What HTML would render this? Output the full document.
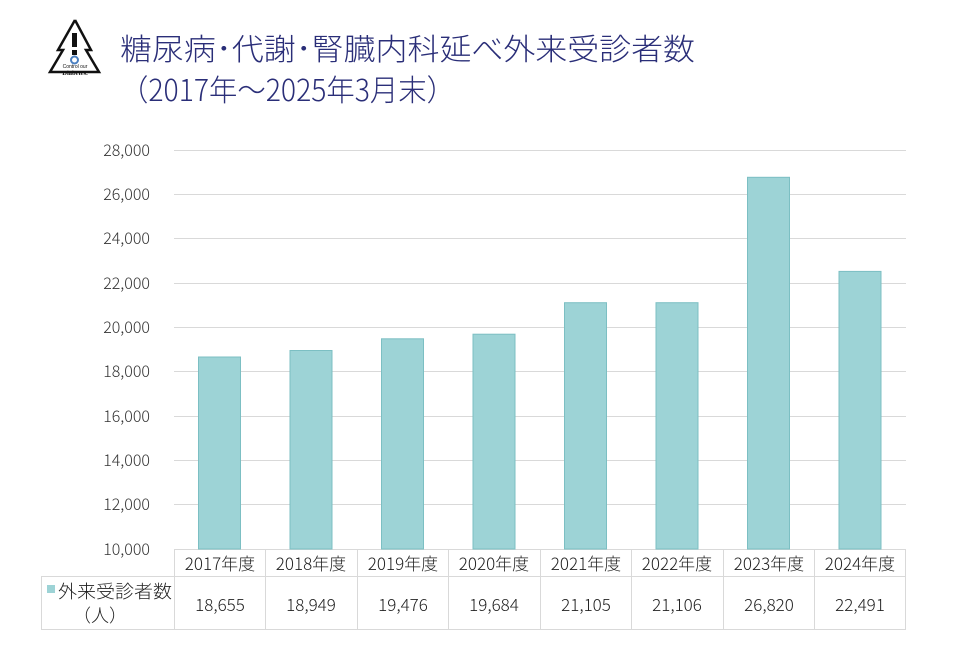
<!DOCTYPE html>
<html><head><meta charset="utf-8"><style>
body{margin:0;background:#fff;width:960px;height:666px;overflow:hidden;font-family:"Liberation Sans","Noto Sans CJK JP",sans-serif}
</style></head><body>
<svg width="960" height="666" xmlns="http://www.w3.org/2000/svg" font-family="Liberation Sans, Noto Sans CJK JP, sans-serif">
<polyline points="75,20 58,50 63,50 50,72 99,72 86,50 91,50 75,20" fill="none" stroke="#111" stroke-width="2.5"/>
<rect x="72" y="33" width="5" height="14" fill="#111"/>
<rect x="72" y="50" width="5" height="5" fill="#111"/>
<circle cx="74.5" cy="60" r="3.5" fill="none" stroke="#4a7fc0" stroke-width="2"/>
<text x="75" y="68" font-size="5" text-anchor="middle" fill="#111">Control our</text>
<text x="75" y="75" font-size="6.5" text-anchor="middle" fill="#111" font-family="Liberation Serif, serif" font-weight="bold">Diabetes.</text>
<text x="120" y="60" font-size="30" fill="#2a2e78" font-family="Noto Sans CJK JP, sans-serif" font-weight="300" textLength="575" lengthAdjust="spacingAndGlyphs">糖尿病･代謝･腎臓内科延べ外来受診者数</text>
<text x="120" y="101" font-size="30" fill="#2a2e78" font-family="Noto Sans CJK JP, sans-serif" font-weight="300" textLength="335" lengthAdjust="spacingAndGlyphs">（2017年～2025年3月末）</text>
<g stroke="#d9d9d9" stroke-width="1">
<line x1="174" x2="906" y1="150.5" y2="150.5"/><line x1="174" x2="906" y1="194.5" y2="194.5"/>
<line x1="174" x2="906" y1="238.5" y2="238.5"/><line x1="174" x2="906" y1="283.5" y2="283.5"/>
<line x1="174" x2="906" y1="327.5" y2="327.5"/><line x1="174" x2="906" y1="371.5" y2="371.5"/>
<line x1="174" x2="906" y1="416.5" y2="416.5"/><line x1="174" x2="906" y1="460.5" y2="460.5"/>
<line x1="174" x2="906" y1="504.5" y2="504.5"/><line x1="174" x2="906" y1="549.5" y2="549.5"/>
</g>
<g font-size="16" fill="#333" text-anchor="end" font-family="Noto Sans CJK JP, sans-serif" font-weight="300">
<text x="150" y="156">28,000</text><text x="150" y="200">26,000</text><text x="150" y="244">24,000</text>
<text x="150" y="289">22,000</text><text x="150" y="333">20,000</text><text x="150" y="377">18,000</text>
<text x="150" y="422">16,000</text><text x="150" y="466">14,000</text><text x="150" y="510">12,000</text>
<text x="150" y="555">10,000</text>
</g>
<g fill="#9dd3d6" stroke="#7cbfc3" stroke-width="1">
<rect x="198.5" y="357" width="42" height="192"/>
<rect x="290" y="350.5" width="42" height="198.5"/>
<rect x="381.5" y="338.8" width="42" height="210.2"/>
<rect x="473" y="334.2" width="42" height="214.8"/>
<rect x="564.5" y="302.7" width="42" height="246.3"/>
<rect x="656" y="302.7" width="42" height="246.3"/>
<rect x="747.5" y="177.3" width="42" height="371.7"/>
<rect x="839" y="271.4" width="42" height="277.6"/>
</g>
<g stroke="#d9d9d9" stroke-width="1" fill="none">
<line x1="41" x2="906" y1="576.5" y2="576.5"/><line x1="41" x2="906" y1="629.5" y2="629.5"/>
<line x1="41.5" x2="41.5" y1="576" y2="629"/>
<line x1="174.5" x2="174.5" y1="549" y2="629"/><line x1="265.5" x2="265.5" y1="549" y2="629"/>
<line x1="357.5" x2="357.5" y1="549" y2="629"/><line x1="448.5" x2="448.5" y1="549" y2="629"/>
<line x1="540.5" x2="540.5" y1="549" y2="629"/><line x1="631.5" x2="631.5" y1="549" y2="629"/>
<line x1="723.5" x2="723.5" y1="549" y2="629"/><line x1="814.5" x2="814.5" y1="549" y2="629"/>
<line x1="905.5" x2="905.5" y1="549" y2="629"/>
</g>
<g font-size="17" fill="#222" text-anchor="middle" font-family="Noto Sans CJK JP, sans-serif" font-weight="300">
<text x="220" y="570">2017年度</text><text x="311" y="570">2018年度</text><text x="403" y="570">2019年度</text>
<text x="494" y="570">2020年度</text><text x="586" y="570">2021年度</text><text x="677" y="570">2022年度</text>
<text x="769" y="570">2023年度</text><text x="860" y="570">2024年度</text>
<text x="220" y="611">18,655</text><text x="311" y="611">18,949</text><text x="403" y="611">19,476</text>
<text x="494" y="611">19,684</text><text x="586" y="611">21,105</text><text x="677" y="611">21,106</text>
<text x="769" y="611">26,820</text><text x="860" y="611">22,491</text>
</g>
<rect x="47" y="585" width="8" height="8" fill="#9dd3d6"/>
<text x="58" y="598" font-size="18" fill="#222" font-family="Noto Sans CJK JP, sans-serif" font-weight="300" textLength="114" lengthAdjust="spacingAndGlyphs">外来受診者数</text>
<text x="100" y="622" font-size="18" fill="#222" text-anchor="middle" font-family="Noto Sans CJK JP, sans-serif" font-weight="300">（人）</text>
</svg>
</body></html>
